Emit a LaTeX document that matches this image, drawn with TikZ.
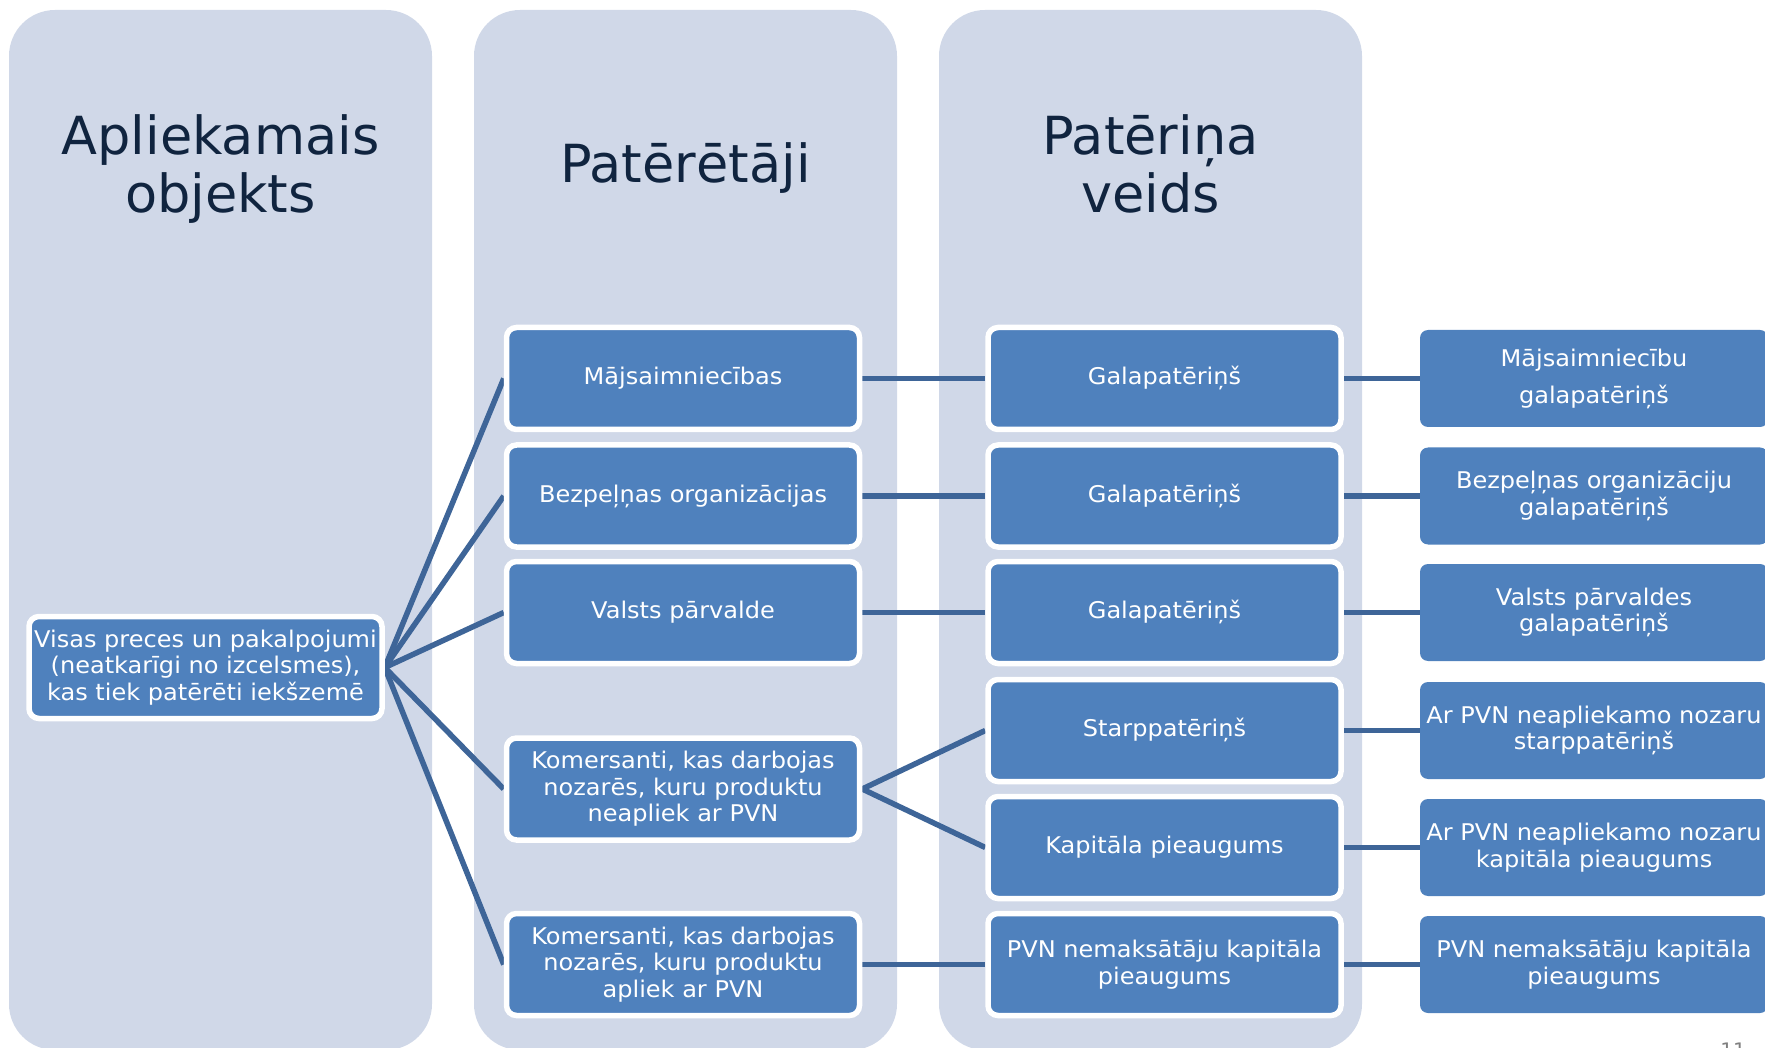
\documentclass[tikz,border=0pt]{standalone}
\usepackage{fontspec}
\setmainfont{DejaVu Sans}
\newfontfamily\boxfont{DejaVu Sans}[FakeStretch=1.045]
\pgfdeclarelayer{back}
\pgfdeclarelayer{mid}
\pgfsetlayers{back,mid,main}
\definecolor{colbg}{HTML}{D0D8E8}
\definecolor{boxblue}{HTML}{4F81BD}
\definecolor{linecol}{HTML}{3E6598}
\definecolor{titlecol}{HTML}{10243F}
\tikzset{
  box/.style={fill=boxblue, draw=white, line width=5.5pt, rounded corners=10pt,
    minimum width=353pt, minimum height=102pt, inner sep=0pt, align=center,
    text=white, font=\boxfont\fontsize{23}{26.5}\selectfont},
  obox/.style={fill=boxblue, draw=none, rounded corners=8pt,
    minimum width=348pt, minimum height=97pt, inner sep=0pt, align=center,
    text=white, font=\boxfont\fontsize{23}{26.5}\selectfont},
  conn/.style={draw=linecol, line width=5.5pt},
  ttl/.style={text=titlecol, font=\fontsize{52.5}{58}\selectfont, anchor=base, inner sep=0pt},
  colbox/.style={fill=colbg, rounded corners=46pt}
}
\begin{document}
\begin{tikzpicture}[x=1pt,y=-1pt]
\useasboundingbox (0,0) rectangle (1765,1048);
\clip (0,0) rectangle (1765,1048);
\begin{pgfonlayer}{back}
  \fill[colbox] (9,10) rectangle (432,1050);
  \fill[colbox] (474,10) rectangle (897,1050);
  \fill[colbox] (939,10) rectangle (1362,1050);
\end{pgfonlayer}

% titles
\node[ttl] (t1a) at (220.5,155) {Apliekamais};
\node[ttl] (t1b) at (220.5,213) {objekts};
\node[ttl] (t2) at (685.5,183) {Patērētāji};
\node[ttl] (t3a) at (1150.5,155) {Patēriņa};
\node[ttl] (t3b) at (1150.5,213) {veids};

% column 1
\node[box] (root) at (205.5,667.5) {Visas preces un pakalpojumi\\(neatkarīgi no izcelsmes),\\kas tiek patērēti iekšzemē};

% column 2
\node[box] (b1) at (683,378.5) {Mājsaimniecības};
\node[box] (b2) at (683,496) {Bezpeļņas organizācijas};
\node[box] (b3) at (683,612.5) {Valsts pārvalde};
\node[box] (b4) at (683,789) {Komersanti, kas darbojas\\nozarēs, kuru produktu\\neapliek ar PVN};
\node[box] (b5) at (683,964.5) {Komersanti, kas darbojas\\nozarēs, kuru produktu\\apliek ar PVN};

% column 3
\node[box] (c1) at (1164.5,378.5) {Galapatēriņš};
\node[box] (c2) at (1164.5,496) {Galapatēriņš};
\node[box] (c3) at (1164.5,612.5) {Galapatēriņš};
\node[box] (c4) at (1164.5,730.5) {Starppatēriņš};
\node[box] (c5) at (1164.5,847.5) {Kapitāla pieaugums};
\node[box] (c6) at (1164.5,964.5) {PVN nemaksātāju kapitāla\\pieaugums};

% column 4
\node[obox, font=\boxfont\fontsize{23}{37}\selectfont] (d1) at (1594,378.5) {Mājsaimniecību\\galapatēriņš};
\node[obox] (d2) at (1594,496) {Bezpeļņas organizāciju\\galapatēriņš};
\node[obox] (d3) at (1594,612.5) {Valsts pārvaldes\\galapatēriņš};
\node[obox] (d4) at (1594,730.5) {Ar PVN neapliekamo nozaru\\starppatēriņš};
\node[obox] (d5) at (1594,847.5) {Ar PVN neapliekamo nozaru\\kapitāla pieaugums};
\node[obox] (d6) at (1594,964.5) {PVN nemaksātāju kapitāla\\pieaugums};

% page number (cut off at the lower edge, as in the original)
\node[text=gray, font=\fontsize{20}{24}\selectfont, anchor=base, inner sep=0pt] (pg) at (1733,1057) {11};

\begin{pgfonlayer}{mid}
  \foreach \b in {b1,b2,b3,b4,b5} \draw[conn] (root.east) -- (\b.west);
  \draw[conn] (b1.east) -- (c1.west);
  \draw[conn] (b2.east) -- (c2.west);
  \draw[conn] (b3.east) -- (c3.west);
  \draw[conn] (b4.east) -- (c4.west);
  \draw[conn] (b4.east) -- (c5.west);
  \draw[conn] (b5.east) -- (c6.west);
  \draw[conn] (c1.east) -- (d1.west);
  \draw[conn] (c2.east) -- (d2.west);
  \draw[conn] (c3.east) -- (d3.west);
  \draw[conn] (c4.east) -- (d4.west);
  \draw[conn] (c5.east) -- (d5.west);
  \draw[conn] (c6.east) -- (d6.west);
\end{pgfonlayer}
\end{tikzpicture}
\end{document}
